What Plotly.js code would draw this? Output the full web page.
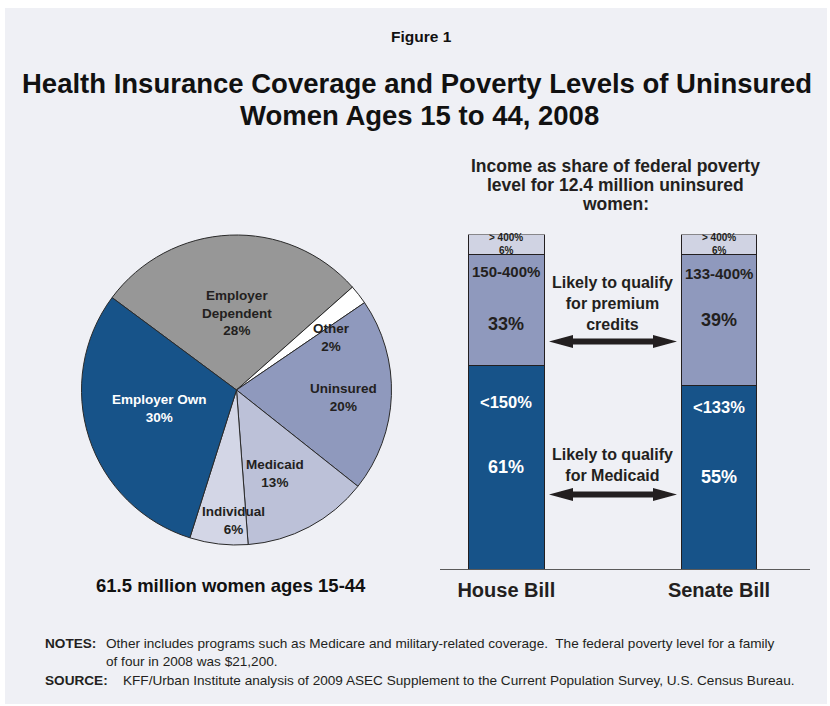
<!DOCTYPE html>
<html>
<head>
<meta charset="utf-8">
<script src="https://cdn.plot.ly/plotly-3.0.1.min.js"></script>
<style>html,body{margin:0;padding:0;background:#fff;}#chart{width:830px;height:706px;}</style>
</head>
<body>
<div id="chart"></div>
<script>
// ---------- DATA ----------
const pieLabels = ['Employer Dependent', 'Other', 'Uninsured', 'Medicaid', 'Individual', 'Employer Own'];
const pieLabelLines = ['Employer<br>Dependent', 'Other', 'Uninsured', 'Medicaid', 'Individual', 'Employer Own'];
const pieValues = [28, 2, 20, 13, 6, 30];

const barCategories = ['House Bill', 'Senate Bill'];
const lowLabels = ['<150%', '<133%'];
const lowValues = [61, 55];
const midLabels = ['150-400%', '133-400%'];
const midValues = [33, 39];
const highLabels = ['> 400%', '> 400%'];
const highValues = [6, 6];

const titleText = ['Health Insurance Coverage and Poverty Levels of Uninsured', 'Women Ages 15 to 44, 2008'];
const subTitleLines = ['Income as share of federal poverty', 'level for 12.4 million uninsured', 'women:'];
const pieCaption = '61.5 million women ages 15-44';
const premiumNote = 'Likely to qualify<br>for premium<br>credits';
const medicaidNote = 'Likely to qualify<br>for Medicaid';
const notesText = ['Other includes programs such as Medicare and military-related coverage.  The federal poverty level for a family', 'of four in 2008 was $21,200.'];
const sourceText = 'KFF/Urban Institute analysis of 2009 ASEC Supplement to the Current Population Survey, U.S. Census Bureau.';

// ---------- STYLE / LAYOUT HELPERS ----------
const W = 830, H = 706;
const px = x => x / W;
const py = y => 1 - y / H;
const FONT = 'Liberation Sans, Arial, sans-serif';
const DARK = '#231f20';
const pieColors = ['#979797', '#ffffff', '#8f99bd', '#bcc1d8', '#d3d6e6', '#175389'];
const lowColor = '#175389', midColor = '#8f99bd', highColor = '#d0d3e3';

const pieTrace = {
  type: 'pie',
  labels: pieLabels,
  values: pieValues,
  sort: false,
  direction: 'clockwise',
  rotation: -53.4,
  textinfo: 'none',
  hoverinfo: 'none',
  marker: {colors: pieColors, line: {color: '#2a2a2a', width: 1}},
  domain: {x: [px(236.5 - 155), px(236.5 + 155)], y: [py(545), py(235)]},
  showlegend: false
};

const barLine = {color: DARK, width: 1};
const barWidth = 0.357;
const xs = barCategories.map((c, i) => i);
const bars = [
  {type: 'bar', x: xs, y: lowValues, marker: {color: lowColor, line: barLine}, width: barWidth, hoverinfo: 'none', showlegend: false},
  {type: 'bar', x: xs, y: midValues, marker: {color: midColor, line: barLine}, width: barWidth, hoverinfo: 'none', showlegend: false},
  {type: 'bar', x: xs, y: highValues, marker: {color: highColor, line: barLine}, width: barWidth, hoverinfo: 'none', showlegend: false}
];

function ann(text, x, y, size, opts) {
  return Object.assign({
    text: text, x: px(x), y: py(y), xref: 'paper', yref: 'paper',
    showarrow: false, xanchor: 'center', yanchor: 'middle',
    font: {family: FONT, size: size, color: DARK}
  }, opts || {});
}

const annotations = [];
// titles
annotations.push(ann('<b>Figure 1</b>', 421, 37, 15.5, {font: {family: FONT, size: 15.5, color: '#111'}}));
annotations.push(ann('<b>' + titleText[0] + '</b>', 417, 83, 27.5, {font: {family: FONT, size: 27.5, color: '#111'}}));
annotations.push(ann('<b>' + titleText[1] + '</b>', 419, 115.5, 27.5, {font: {family: FONT, size: 27.5, color: '#111'}}));
// pie labels
const piePos = [[237, 313], [331, 337.5], [343, 397.5], [275, 473.5], [233, 520.5], [159, 408.5]];
pieLabelLines.forEach((l, i) => {
  const c = i === 5 ? '#ffffff' : DARK;
  annotations.push(ann('<b>' + l + '<br>' + pieValues[i] + '%</b>', piePos[i][0], piePos[i][1], 13.5,
    {font: {family: FONT, size: 13.5, color: c}}));
});
annotations.push(ann('<b>' + pieCaption + '</b>', 231, 585, 18.5, {font: {family: FONT, size: 18.5, color: '#111'}}));
// subtitle of bar chart
subTitleLines.forEach((l, i) => annotations.push(ann('<b>' + l + '</b>', 615, 166 + 19 * i, 17.5)));
// bar labels
const barX = [506.3, 719];
const midPos = [[272, 324], [273, 320]];
const lowPos = [[402, 467], [407, 477]];
barCategories.forEach((c, i) => {
  annotations.push(ann('<b>' + highLabels[i] + '<br>' + highValues[i] + '%</b>', barX[i], 243.5, 10));
  annotations.push(ann('<b>' + midLabels[i] + '</b>', barX[i], midPos[i][0], 15));
  annotations.push(ann('<b>' + midValues[i] + '%</b>', barX[i], midPos[i][1], 18));
  annotations.push(ann('<b>' + lowLabels[i] + '</b>', barX[i], lowPos[i][0], 16.5, {font: {family: FONT, size: 16.5, color: '#fff'}}));
  annotations.push(ann('<b>' + lowValues[i] + '%</b>', barX[i], lowPos[i][1], 18, {font: {family: FONT, size: 18, color: '#fff'}}));
});
annotations.push(ann('<b>' + premiumNote + '</b>', 612, 303.5, 16));
annotations.push(ann('<b>' + medicaidNote + '</b>', 612, 465.5, 16));
// notes
annotations.push(ann('<b>NOTES:</b>', 43, 643, 13.6, {xanchor: 'left'}));
annotations.push(ann(notesText[0], 104, 643, 13.6, {xanchor: 'left'}));
annotations.push(ann(notesText[1], 104, 661, 13.6, {xanchor: 'left'}));
annotations.push(ann('<b>SOURCE:</b>', 43, 680, 13.6, {xanchor: 'left'}));
annotations.push(ann(sourceText, 121, 680, 13.6, {xanchor: 'left'}));

// double-headed arrows (decorations)
function arrowPath(x0, x1, y) {
  const hl = 24, hh = 6.5, sh = 3;
  const pts = [[x0, y], [x0 + hl, y - hh], [x0 + hl, y - sh], [x1 - hl, y - sh], [x1 - hl, y - hh], [x1, y],
               [x1 - hl, y + hh], [x1 - hl, y + sh], [x0 + hl, y + sh], [x0 + hl, y + hh]];
  return 'M' + pts.map(p => px(p[0]).toFixed(5) + ',' + py(p[1]).toFixed(5)).join('L') + 'Z';
}

const shapes = [
  {type: 'rect', xref: 'paper', yref: 'paper', x0: px(5), x1: px(827), y0: py(704), y1: py(8),
   fillcolor: '#eff0f5', line: {width: 0}, layer: 'below'},
  {type: 'path', xref: 'paper', yref: 'paper', path: arrowPath(549, 677, 341.5), fillcolor: DARK, line: {width: 0}},
  {type: 'path', xref: 'paper', yref: 'paper', path: arrowPath(549, 677, 494.5), fillcolor: DARK, line: {width: 0}}
];

const layout = {
  width: W, height: H,
  margin: {l: 0, r: 0, t: 0, b: 0},
  paper_bgcolor: '#ffffff',
  plot_bgcolor: 'rgba(0,0,0,0)',
  barmode: 'stack',
  showlegend: false,
  xaxis: {
    domain: [px(440), px(810)],
    range: [(440 - 506.3) / 212.7, (810 - 506.3) / 212.7],
    tickvals: xs, ticktext: barCategories,
    showgrid: false, zeroline: false, showline: true, linecolor: '#5a5a5a', linewidth: 1,
    ticks: '', ticklabelstandoff: 3,
    tickfont: {family: FONT, size: 20, color: DARK, weight: 'bold'},
    fixedrange: true
  },
  yaxis: {
    domain: [py(569), py(569 - 334.4)],
    range: [0, 100],
    visible: false, fixedrange: true
  },
  shapes: shapes,
  annotations: annotations
};

Plotly.newPlot('chart', [pieTrace].concat(bars), layout, {displayModeBar: false, staticPlot: true});
</script>
</body>
</html>
